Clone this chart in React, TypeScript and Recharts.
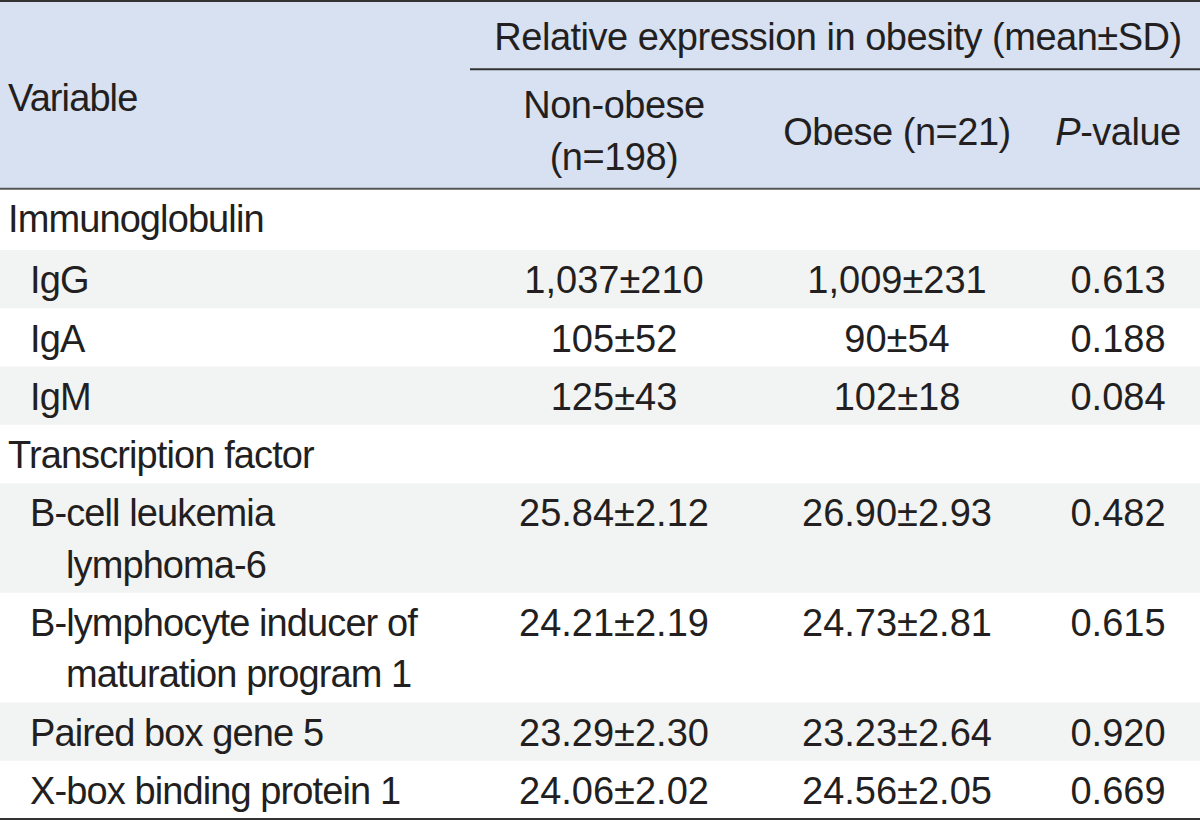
import React from 'react';
import { ComposedChart, XAxis, YAxis, Scatter, ReferenceArea, ReferenceLine } from 'recharts';

// ---------- data ----------
const rowLabels = [
  'Immunoglobulin',
  'IgG',
  'IgA',
  'IgM',
  'Transcription factor',
  'B-cell leukemia lymphoma-6',
  'B-lymphocyte inducer of maturation program 1',
  'Paired box gene 5',
  'X-box binding protein 1',
];
const rowIsGroup = [true, false, false, false, true, false, false, false, false];
const nonObeseValues = ['', '1,037±210', '105±52', '125±43', '', '25.84±2.12', '24.21±2.19', '23.29±2.30', '24.06±2.02'];
const obeseValues = ['', '1,009±231', '90±54', '102±18', '', '26.90±2.93', '24.73±2.81', '23.23±2.64', '24.56±2.05'];
const pValues = ['', '0.613', '0.188', '0.084', '', '0.482', '0.615', '0.920', '0.669'];

const headerVariable = 'Variable';
const headerGroup = 'Relative expression in obesity (mean±SD)';
const headerNonObese = ['Non-obese', '(n=198)'];
const headerObese = 'Obese (n=21)';
const headerPItalic = 'P';
const headerPRest = '-value';

// ---------- layout ----------
const W = 1200;
const H = 821;
const MAX_CHARS = 23;
const LINE_STEP = 0.88;
const HEADER_UNITS = 3.22;
const COLS = { group: 8, item: 30, wrap: 66, rule: 470, nonObese: 614, obese: 897, p: 1118 };
const FONT = "'Liberation Sans', Arial, Helvetica, sans-serif";
const FONT_SIZE = 38;
const TEXT_COLOR = '#231f20';
const HEADER_BG = '#d8e1f1';
const STRIPE_BG = '#f2f3f3';
const SPACING: Record<string, number> = { label: -0.9, number: 0, header: -0.5 };

function wrap(label: string): string[] {
  const words = label.split(' ');
  const lines: string[] = [];
  let cur = '';
  for (const w of words) {
    const next = cur ? cur + ' ' + w : w;
    if (next.length > MAX_CHARS && cur) {
      lines.push(cur);
      cur = w;
    } else cur = next;
  }
  if (cur) lines.push(cur);
  return lines;
}

type Cell = { x: number; y: number; text: string; anchor: string; kind: string; italic?: string };

const rows = (() => {
  let start = 0;
  return rowLabels.map((label, i) => {
    const lines = rowIsGroup[i] ? [label] : wrap(label);
    const size = (i === 0 ? 1.05 : 1) + (lines.length - 1) * LINE_STEP;
    const r = { label, lines, start, end: start + size, index: i };
    start += size;
    return r;
  });
})();
const BODY_UNITS = rows[rows.length - 1].end;

const cells: Cell[] = [];
rows.forEach((r, i) => {
  r.lines.forEach((ln, j) => {
    const x = rowIsGroup[i] ? COLS.group : j === 0 ? COLS.item : COLS.wrap;
    cells.push({ x, y: r.start + 0.52 + j * LINE_STEP, text: ln, anchor: 'start', kind: 'label' });
  });
  const y = r.start + 0.52;
  if (nonObeseValues[i]) cells.push({ x: COLS.nonObese, y, text: nonObeseValues[i], anchor: 'middle', kind: 'number' });
  if (obeseValues[i]) cells.push({ x: COLS.obese, y, text: obeseValues[i], anchor: 'middle', kind: 'number' });
  if (pValues[i]) cells.push({ x: COLS.p, y, text: pValues[i], anchor: 'middle', kind: 'number' });
});

const H0 = -HEADER_UNITS;
const headerCells: Cell[] = [
  { x: COLS.group, y: H0 + 1.66, text: headerVariable, anchor: 'start', kind: 'label' },
  { x: (COLS.rule + W) / 2 + 3, y: H0 + 0.62, text: headerGroup, anchor: 'middle', kind: 'header' },
  { x: COLS.nonObese, y: H0 + 1.78, text: headerNonObese[0], anchor: 'middle', kind: 'header' },
  { x: COLS.nonObese, y: H0 + 2.68, text: headerNonObese[1], anchor: 'middle', kind: 'header' },
  { x: COLS.obese, y: H0 + 2.24, text: headerObese, anchor: 'middle', kind: 'header' },
  { x: COLS.p, y: H0 + 2.24, text: headerPRest, anchor: 'middle', kind: 'header', italic: headerPItalic },
];
const allCells = [...headerCells, ...cells];

const TextShape = (props: any) => {
  const { cx, cy, payload } = props;
  if (cx == null || cy == null) return null;
  return (
    <text
      x={cx}
      y={cy}
      textAnchor={payload.anchor}
      dominantBaseline="central"
      fontFamily={FONT}
      fontSize={FONT_SIZE}
      letterSpacing={SPACING[payload.kind]}
      fill={TEXT_COLOR}
    >
      {payload.italic ? <tspan fontStyle="italic">{payload.italic}</tspan> : null}
      <tspan>{payload.text}</tspan>
    </text>
  );
};

export default function App() {
  return (
    <div style={{ position: 'absolute', left: 0, top: 0, width: W, height: H, background: '#fff' }}>
      <ComposedChart width={W} height={H} margin={{ top: 1, right: 0, bottom: 2, left: 0 }} data={allCells}>
        <XAxis type="number" dataKey="x" domain={[0, W]} hide allowDataOverflow />
        <YAxis type="number" dataKey="y" domain={[H0, BODY_UNITS]} reversed hide allowDataOverflow />
        <ReferenceArea x1={0} x2={W} y1={H0} y2={0} fill={HEADER_BG} fillOpacity={1} stroke="none" ifOverflow="visible" />
        {rows
          .filter((r) => r.index % 2 === 1)
          .map((r) => (
            <ReferenceArea
              key={r.index}
              x1={0}
              x2={W}
              y1={r.start}
              y2={r.end}
              fill={STRIPE_BG}
              fillOpacity={1}
              stroke="none"
              ifOverflow="visible"
            />
          ))}
        <ReferenceLine y={H0} stroke="#333" strokeWidth={2} ifOverflow="visible" />
        <ReferenceLine
          segment={[
            { x: COLS.rule, y: H0 + 1.17 },
            { x: W, y: H0 + 1.17 },
          ]}
          stroke="#333"
          strokeWidth={2}
          ifOverflow="visible"
        />
        <ReferenceLine y={0} stroke="#555" strokeWidth={2} ifOverflow="visible" />
        <ReferenceLine y={BODY_UNITS} stroke="#333" strokeWidth={2} ifOverflow="visible" />
        <Scatter data={allCells} dataKey="y" shape={TextShape} isAnimationActive={false} />
      </ComposedChart>
    </div>
  );
}
